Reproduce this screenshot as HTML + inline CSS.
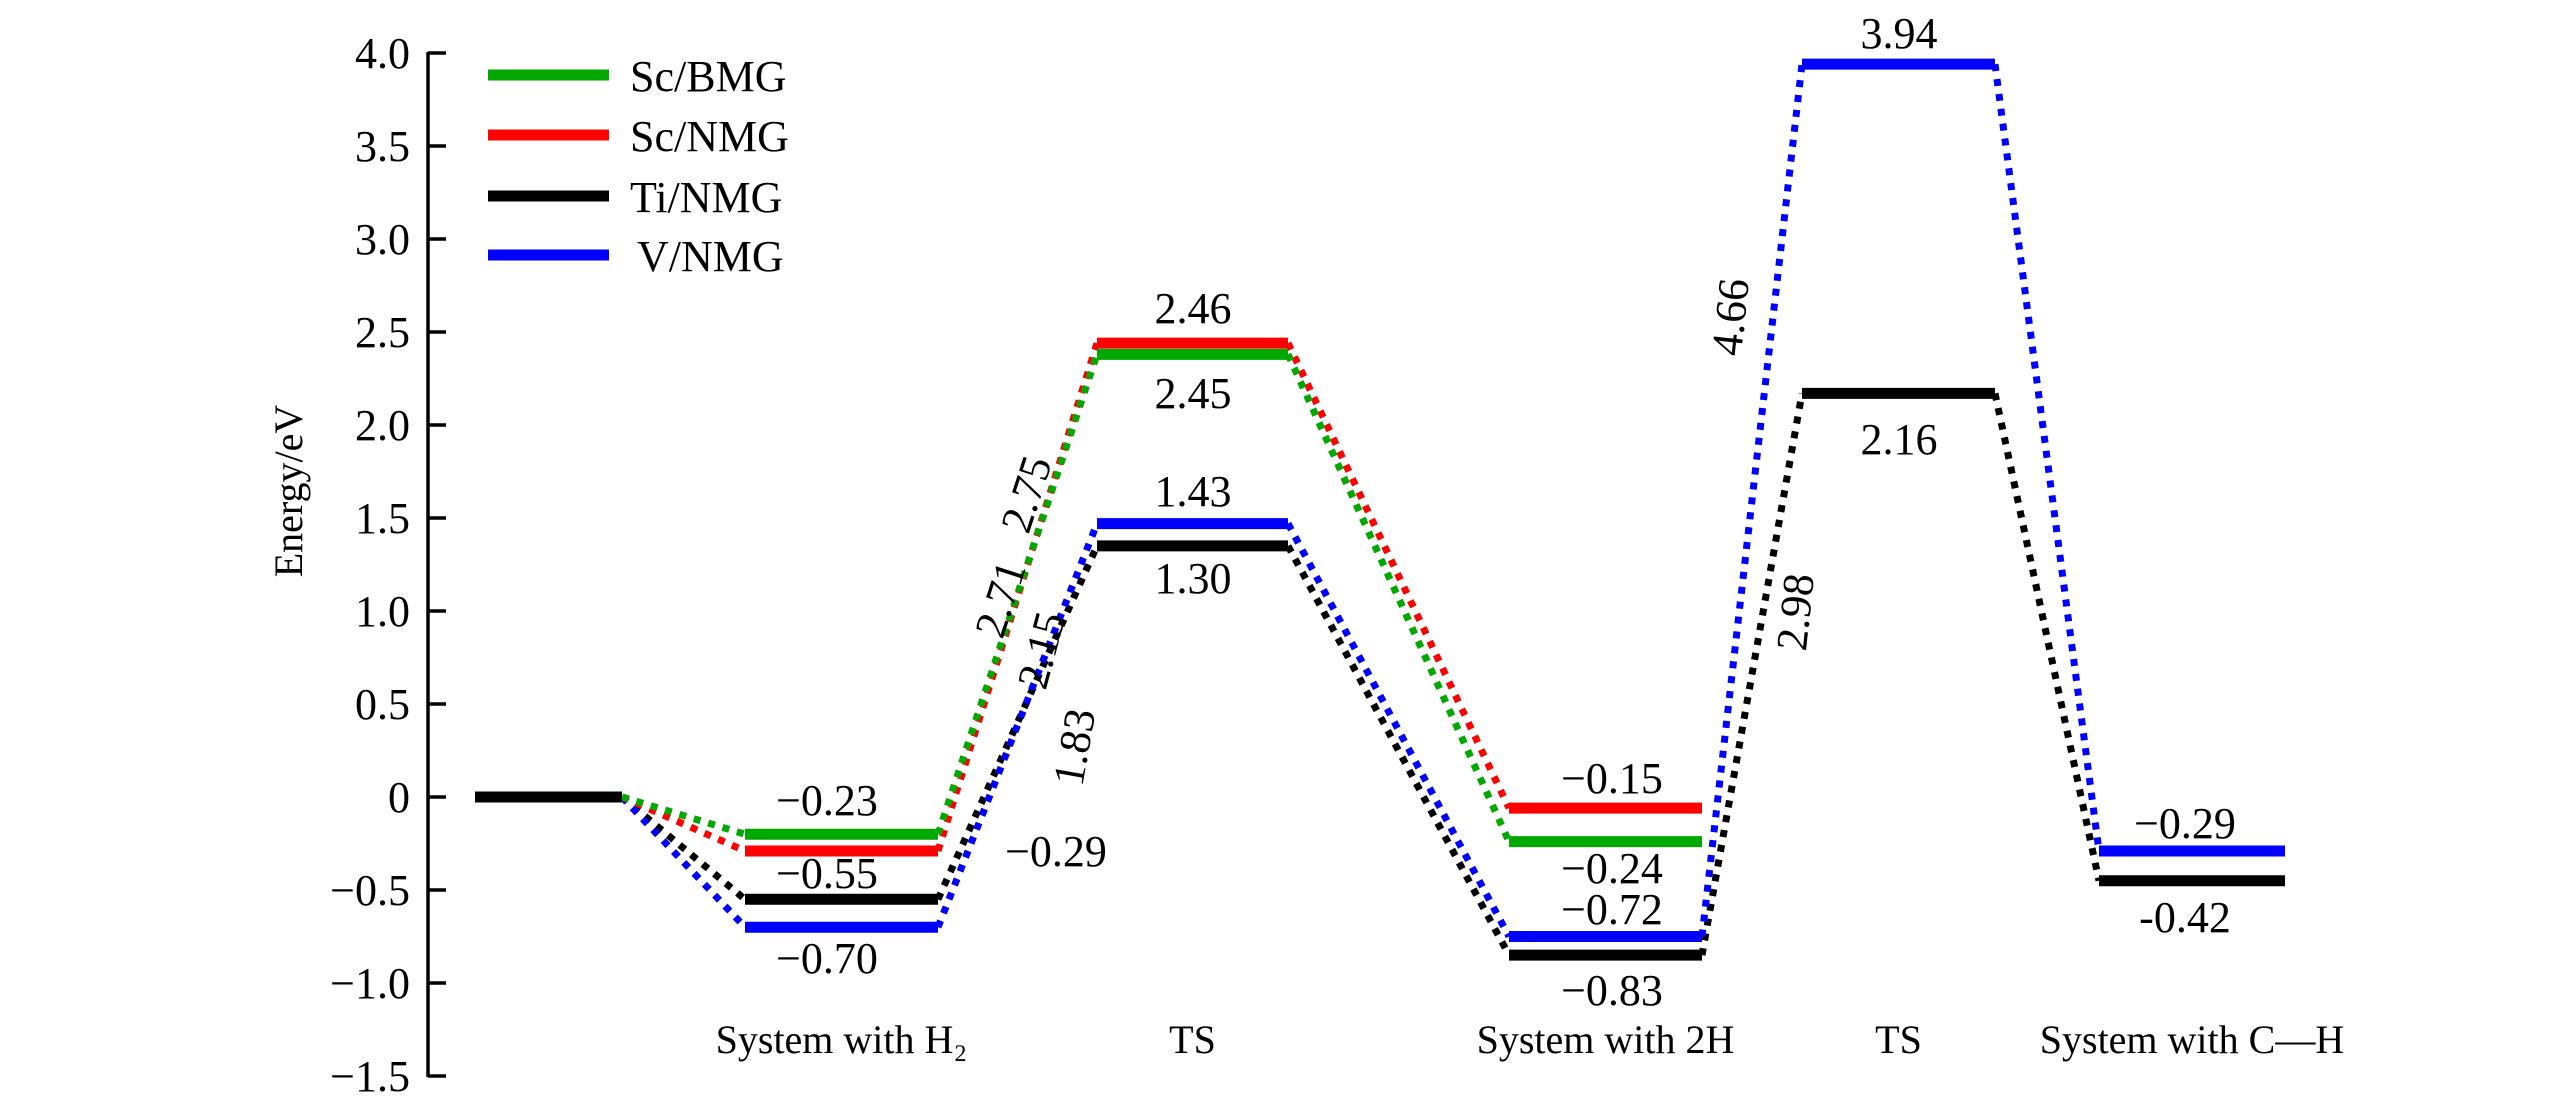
<!DOCTYPE html>
<html><head><meta charset="utf-8">
<style>
html,body{margin:0;padding:0;background:#fff;font-family:'Liberation Serif',serif;}
svg{display:block;}
text{font-family:'Liberation Serif',serif !important;}
</style></head>
<body>
<svg id="chart" width="2567" height="1102" viewBox="0 0 2567 1102" xmlns="http://www.w3.org/2000/svg">
<g id="axis"></g>
<g id="marks"></g>
<g id="labels"></g>
<g id="legend"></g>
<text x="0" y="0" font-size="40" text-anchor="middle" transform="translate(302,491) rotate(-90)">Energy/eV</text>
</svg>
<script>
// ---- data ----
const categories = ["", "System with H\u2082", "TS", "System with 2H", "TS", "System with C\u2014H"];
const seriesNames = ["Sc/BMG", "Sc/NMG", "Ti/NMG", "V/NMG"];
const seriesColors = ["#00a800", "#ff0000", "#000000", "#0000ff"];
const scBMG = [0, -0.20, 2.38, -0.24];
const scNMG = [0, -0.29, 2.44, -0.06];
const tiNMG = [0, -0.55, 1.35, -0.85, 2.17, -0.45];
const vNMG  = [0, -0.70, 1.47, -0.75, 3.94, -0.29];
const yTicks = [4.0, 3.5, 3.0, 2.5, 2.0, 1.5, 1.0, 0.5, 0, -0.5, -1.0, -1.5];
const yTickLabels = ["4.0","3.5","3.0","2.5","2.0","1.5","1.0","0.5","0","\u22120.5","\u22121.0","\u22121.5"];
const printedText = ["\u22120.23","\u22120.55","\u22120.70","\u22120.29","2.46","2.45","1.43","1.30","\u22120.15","\u22120.24","\u22120.72","\u22120.83","3.94","2.16","\u22120.29","-0.42","2.75","2.71","2.15","1.83","4.66","2.98"];

// ---- axis functions ----
const Y0 = 797, PER = 186;
function yS(v){ return Y0 - v*PER; }
const levelX = [[475,622],[745,938],[1097,1288],[1509,1702],[1802,1995],[2099,2285]];
function xL(i){ return levelX[i][0]; }
function xR(i){ return levelX[i][1]; }

const NS = "http://www.w3.org/2000/svg";
function mk(tag, attrs, parent){ const e=document.createElementNS(NS,tag); for(const k in attrs) e.setAttribute(k,attrs[k]); if(tag==='text') e.setAttribute('style',"font-family:'Liberation Serif',serif"); parent.appendChild(e); return e; }

const axis = document.getElementById('axis');
const axLine = mk('line',{x1:428,y1:yS(4.0)-1,x2:428,y2:yS(-1.5)+1,stroke:'#000','stroke-width':3.5},axis);


yTicks.forEach((t,i)=>{
  const tk = mk('line',{x1:428,y1:yS(t),x2:446,y2:yS(t),stroke:'#000','stroke-width':3.5},axis);
  
  
  const tl = mk('text',{x:410,y:yS(t)+15,'font-size':44,'text-anchor':'end'},axis);
  tl.textContent = yTickLabels[i];
  
  
});
categories.forEach((c,i)=>{
  if(!c) return;
  const t = mk('text',{x:(xL(i)+xR(i))/2,y:1053,'font-size':40,'text-anchor':'middle'},axis);
  t.textContent = c;
  
  
});

const marks = document.getElementById('marks');
const allSeries = [scBMG, scNMG, tiNMG, vNMG];
const drawOrder = [2,3,1,0];
drawOrder.forEach(s=>{
  const vals = allSeries[s], col = seriesColors[s];
  for(let i=1;i<vals.length;i++){
    const c = mk('line',{x1:xR(i-1),y1:yS(vals[i-1]),x2:xL(i),y2:yS(vals[i]),stroke:col,'stroke-width':7,'stroke-dasharray':'7 8'},marks);
    
    
  }
  for(let i=1;i<vals.length;i++){
    const b = mk('line',{x1:xL(i),y1:yS(vals[i]),x2:xR(i),y2:yS(vals[i]),stroke:col,'stroke-width':11},marks);
    
    
  }
});
const ref = mk('line',{x1:xL(0),y1:yS(0),x2:xR(0),y2:yS(0),stroke:'#000','stroke-width':11},marks);



const labelPos = [[827,800,0],[827,873,0],[827,958,0],[1056,851,0],[1193,308,0],[1193,393,0],[1193,491,0],[1193,578,0],[1612,778,0],[1612,868,0],[1612,909,0],[1612,990,0],[1899,33,0],[1899,439,0],[2185,823,0],[2185,917,0],[1026,494,-72],[1000,599,-72],[1041,650,-75],[1074,747,-80],[1730,317,-84],[1795,612,-84]];
const labels = document.getElementById('labels');
printedText.forEach((txt,i)=>{
  const p = labelPos[i];
  const t = mk('text',{x:0,y:15,'font-size':44,'text-anchor':'middle',transform:`translate(${p[0]},${p[1]}) rotate(${p[2]})`},labels);
  t.textContent = txt;
  
  
});

const legend = document.getElementById('legend');
const legY = [75,135,196,255];
const legTX = [630,630,630,637];
seriesNames.forEach((n,i)=>{
  const l = mk('line',{x1:488,y1:legY[i],x2:609,y2:legY[i],stroke:seriesColors[i],'stroke-width':11},legend);
  
  
  const t = mk('text',{x:legTX[i],y:legY[i]+16,'font-size':44},legend);
  t.textContent = n;
  
  
});
</script>
</body></html>
